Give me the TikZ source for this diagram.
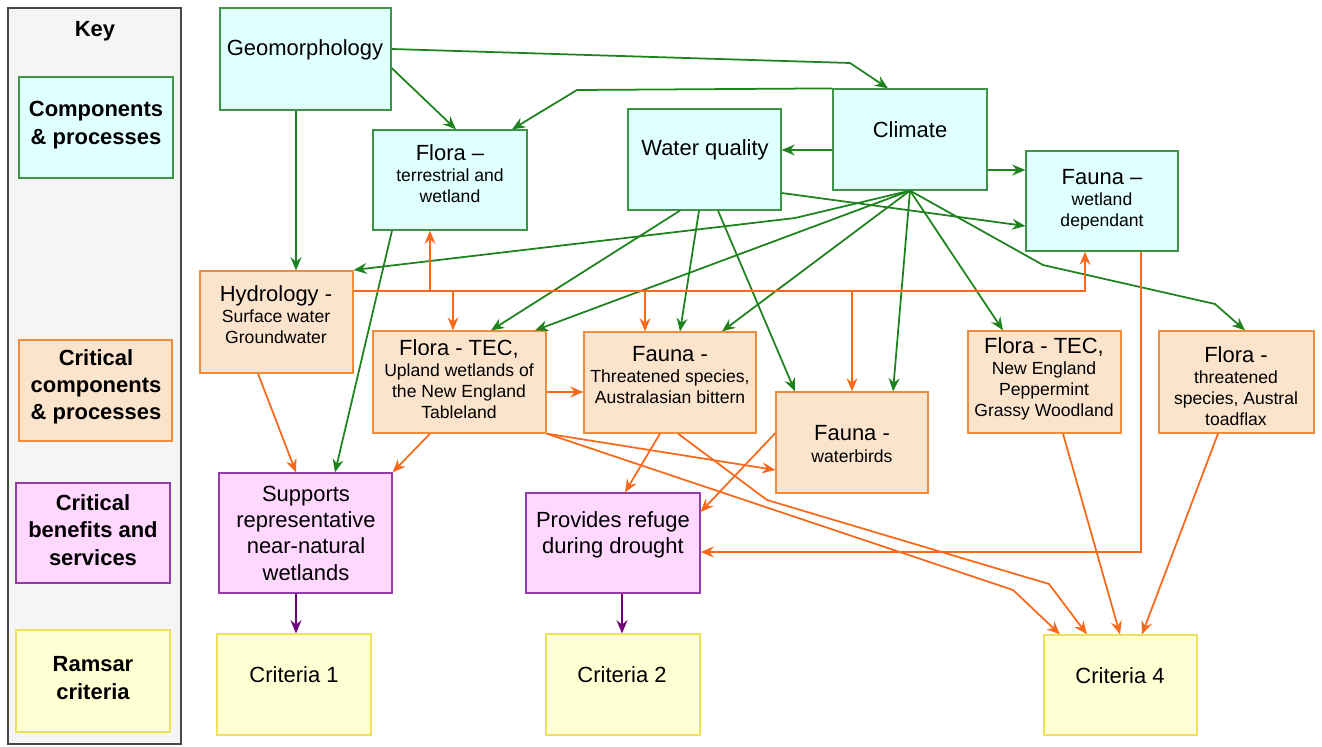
\documentclass[tikz,border=0pt]{standalone}
\usepackage{fontspec}
\setmainfont{Liberation Sans}
\usetikzlibrary{arrows.meta,fit,calc}
\definecolor{cfill}{RGB}{224,255,255}
\definecolor{cdraw}{RGB}{60,150,70}
\definecolor{ofill}{RGB}{252,228,204}
\definecolor{odraw}{RGB}{240,140,60}
\definecolor{pfill}{RGB}{255,215,255}
\definecolor{pdraw}{RGB}{150,60,170}
\definecolor{yfill}{RGB}{255,255,212}
\definecolor{ydraw}{RGB}{240,225,90}
\definecolor{keyfill}{RGB}{245,245,245}
\definecolor{keydraw}{RGB}{70,70,70}
\definecolor{garrow}{RGB}{30,130,30}
\definecolor{oarrow}{RGB}{250,105,25}
\definecolor{parrow}{RGB}{110,0,120}
\newcommand\txtbig{\fontsize{12.5}{15}\selectfont}
\newcommand\txtsml{\fontsize{10}{12}\selectfont}
\newcommand\txtkey{\fontsize{12.5}{15.5}\selectfont\bfseries}
\tikzset{
  basebox/.style={line width=0.7pt, inner sep=0pt},
  boxc/.style={basebox, draw=cdraw, fill=cfill},
  boxo/.style={basebox, draw=odraw, fill=ofill},
  boxp/.style={basebox, draw=pdraw, fill=pfill},
  boxy/.style={basebox, draw=ydraw, fill=yfill},
  keyp/.style={basebox, draw=keydraw, fill=keyfill, line width=0.9pt},
  lbl/.style={align=center, font=\txtsml, inner sep=0pt},
  lblb/.style={align=center, font=\txtbig, inner sep=0pt},
  keyt/.style={align=center, font=\txtkey, inner sep=0pt},
  conn/.style={line width=1pt, -{Stealth[length=7.5pt,width=6.2pt,inset=2.5pt]}},
  gar/.style={conn, draw=garrow},
  oar/.style={conn, draw=oarrow},
  par/.style={conn, draw=parrow},
}
\begin{document}
\begin{tikzpicture}[x=0.02cm,y=-0.02cm]
\useasboundingbox (0,0) rectangle (1322,747);
% ---------- key ----------
\node[keyp, fit={(8,8)(181,744)}] (key) {};
\node[keyt] (key-t) at (95,31) {Key};
\node[boxc, fit={(19,77)(173,178)}] (k1) {};
\node[keyt] (k1-t) at (96,125) {Components\\\& processes};
\node[boxo, fit={(19,340)(172,441)}] (k2) {};
\node[keyt] (k2-t) at (96,387) {Critical\\components\\\& processes};
\node[boxp, fit={(16,483)(170,583)}] (k3) {};
\node[keyt] (k3-t) at (93,530) {Critical\\benefits and\\services};
\node[boxy, fit={(16,630)(170,732)}] (k4) {};
\node[keyt] (k4-t) at (93,678) {Ramsar\\criteria};
% ---------- boxes ----------
\node[boxc, fit={(220,8)(391,110)}] (geo) {};
\node[lblb] (geo-t) at (305,50) {Geomorphology};
\node[boxc, fit={(373,130)(527,230)}] (ft) {};
\node[lbl] (ft-t) at (450,174) {{\txtbig Flora –}\\terrestrial and\\wetland};
\node[boxc, fit={(628,109)(781,210)}] (wq) {};
\node[lblb] (wq-t) at (705,150) {Water quality};
\node[boxc, fit={(833,89)(987,190)}] (clim) {};
\node[lblb] (clim-t) at (910,130) {Climate};
\node[boxc, fit={(1026,151)(1178,251)}] (fw) {};
\node[lbl] (fw-t) at (1102,200) {{\txtbig Fauna –}\\wetland\\dependant};
\node[boxo, fit={(200,271)(353,373)}] (hy) {};
\node[lbl] (hy-t) at (276,315) {{\txtbig Hydrology -}\\Surface water\\Groundwater};
\node[boxo, fit={(373,331)(546,433)}] (tec) {};
\node[lbl] (tec-t) at (459,379) {{\txtbig Flora - TEC,}\\Upland wetlands of\\the New England\\Tableland};
\node[boxo, fit={(584,332)(756,433)}] (fth) {};
\node[lbl] (fth-t) at (670,375) {{\txtbig Fauna -}\\Threatened species,\\Australasian bittern};
\node[boxo, fit={(776,392)(928,493)}] (fwb) {};
\node[lbl] (fwb-t) at (852,444) {{\txtbig Fauna -}\\waterbirds};
\node[boxo, fit={(968,331)(1121,433)}] (tne) {};
\node[lbl] (tne-t) at (1044,379) {{\txtbig Flora - TEC,}\\New England\\Peppermint\\Grassy Woodland};
\node[boxo, fit={(1159,331)(1314,433)}] (flt) {};
\node[lbl] (flt-t) at (1236,386) {{\txtbig Flora -}\\threatened\\species, Austral\\toadflax};
\node[boxp, fit={(219,473)(392,593)}] (sup) {};
\node[lblb] (sup-t) at (306,533) {Supports\\representative\\near-natural\\wetlands};
\node[boxp, fit={(526,493)(700,593)}] (pr) {};
\node[lblb] (pr-t) at (613,535) {Provides refuge\\during drought};
\node[boxy, fit={(217,634)(371,735)}] (c1) {};
\node[lblb] (c1-t) at (294,675) {Criteria 1};
\node[boxy, fit={(546,634)(700,735)}] (c2) {};
\node[lblb] (c2-t) at (622,675) {Criteria 2};
\node[boxy, fit={(1044,635)(1197,735)}] (c4) {};
\node[lblb] (c4-t) at (1120,676) {Criteria 4};
% ---------- green connectors ----------
\draw[gar] (geo.east |- 0,49) -- (850,63) -- (clim.north -| 888,0);
\draw[gar] (geo.east |- 0,68) -- (ft.north -| 456,0);
\draw[gar] (clim.north west) -- (577,90) -- (ft.north -| 512,0);
\draw[gar] (clim.west |- 0,150) -- (wq.east |- 0,150);
\draw[gar] (clim.east |- 0,170) -- (fw.west |- 0,170);
\draw[gar] (wq.east |- 0,193) -- (fw.west |- 0,226);
\draw[gar] (geo.south -| 296,0) -- (hy.north -| 296,0);
\draw[gar] (ft.south -| 392,0) -- (sup.north -| 335,0);
\draw[gar] (clim.south) -- (795,218) -- (hy.east |- 0,270);
\draw[gar] (clim.south) -- (tec.north -| 535,0);
\draw[gar] (clim.south) -- (fth.north -| 722,0);
\draw[gar] (clim.south) -- (fwb.north -| 893,0);
\draw[gar] (clim.south) -- (tne.north -| 1003,0);
\draw[gar] (clim.south) -- (1043,265) -- (1215,304) -- (flt.north -| 1245,0);
\draw[gar] (wq.south -| 680,0) -- (tec.north -| 491,0);
\draw[gar] (wq.south -| 699,0) -- (fth.north -| 680,0);
\draw[gar] (wq.south -| 718,0) -- (fwb.north -| 795,0);
% ---------- orange connectors ----------
\coordinate (b1) at (430,291);
\coordinate (b2) at (453,291);
\coordinate (b3) at (645,291);
\coordinate (b4) at (852,291);
\draw[oar] (hy.east |- 0,291) -- (1085,291) -- (fw.south -| 1085,0);
\draw[oar] (b1) -- (ft.south -| b1);
\draw[oar] (b2) -- (tec.north -| b2);
\draw[oar] (b3) -- (fth.north -| b3);
\draw[oar] (b4) -- (fwb.north -| b4);
\draw[oar] (tec.east |- 0,392) -- (fth.west |- 0,392);
\draw[oar] (hy.south -| 258,0) -- (sup.north -| 296,0);
\draw[oar] (tec.south -| 430,0) -- (sup.north east);
\draw[oar] (tec.south east) -- (fwb.west |- 0,470);
\draw[oar] (tec.south east) -- (1013,590) -- (c4.north -| 1060,0);
\draw[oar] (fth.south -| 678,0) -- (767,500) -- (1049,584) -- (c4.north -| 1087,0);
\draw[oar] (fth.south -| 660,0) -- (pr.north -| 625,0);
\draw[oar] (fwb.west |- 0,433) -- (pr.east |- 0,512);
\draw[oar] (fw.south -| 1141,0) |- (pr.east |- 0,552);
\draw[oar] (tne.south -| 1063,0) -- (c4.north -| 1120,0);
\draw[oar] (flt.south -| 1218,0) -- (c4.north -| 1142,0);
% ---------- purple connectors ----------
\draw[par] (sup.south -| 296,0) -- (c1.north -| 296,0);
\draw[par] (pr.south -| 622,0) -- (c2.north -| 622,0);
\end{tikzpicture}
\end{document}
